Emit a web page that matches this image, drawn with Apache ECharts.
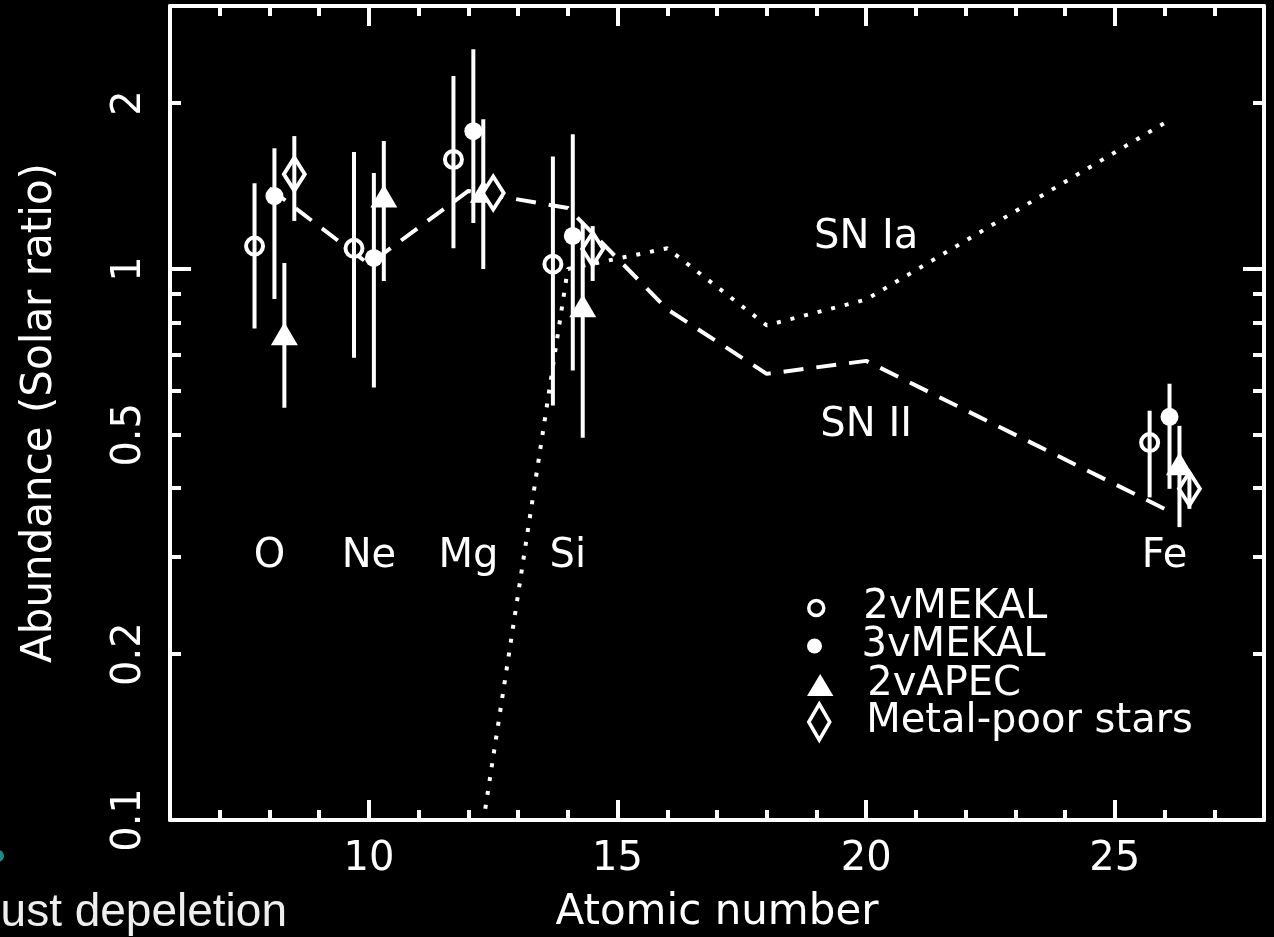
<!DOCTYPE html>
<html><head><meta charset="utf-8">
<script src="https://cdn.jsdelivr.net/npm/echarts@6/dist/echarts.min.js"></script>
<style>html,body{margin:0;padding:0;background:#000;} #chart{width:1274px;height:937px;}</style>
</head><body><div id="chart"></div>
<script>
// ---------------- data ----------------
// 2vMEKAL (open circles)
const mekal2Z    = [7.7, 9.7, 11.7, 13.7, 25.7];
const mekal2Val  = [1.10, 1.09, 1.58, 1.02, 0.484];
const mekal2Low  = [0.78, 0.69, 1.09, 0.565, 0.385];
const mekal2High = [1.43, 1.63, 2.24, 1.60, 0.553];
// 3vMEKAL (filled circles)
const mekal3Z    = [8.1, 10.1, 12.1, 14.1, 26.1];
const mekal3Val  = [1.356, 1.047, 1.778, 1.148, 0.539];
const mekal3Low  = [0.882, 0.609, 1.212, 0.654, 0.399];
const mekal3High = [1.656, 1.493, 2.504, 1.756, 0.619];
// 2vAPEC (filled triangles)
const apecZ    = [8.3, 10.3, 12.3, 14.3, 26.3];
const apecVal  = [0.763, 1.356, 1.384, 0.857, 0.443];
const apecLow  = [0.560, 0.951, 1.0, 0.494, 0.340];
const apecHigh = [1.025, 1.706, 1.869, 1.206, 0.519];
// Metal-poor stars (open diamonds)
const starsZ    = [8.5, 12.5, 14.5, 26.5];
const starsVal  = [1.486, 1.373, 1.087, 0.399];
const starsLow  = [1.222, 1.373, 0.951, 0.367];
const starsHigh = [1.742, 1.373, 1.196, 0.425];
// Supernova models
const snIaZ   = [12, 14, 16, 18, 20, 26];
const snIaVal = [0.066, 1.0, 1.09, 0.79, 0.88, 1.84];
const snIIZ   = [8, 10, 12, 14, 16, 18, 20, 26];
const snIIVal = [1.40, 1.02, 1.385, 1.29, 0.845, 0.645, 0.681, 0.367];
// element / model annotations
const elementNames = ['O', 'Ne', 'Mg', 'Si', 'Fe'];
const elementZ     = [8, 10, 12, 14, 26];
const elementLabelY = 0.3;
const modelNames = ['SN Ia', 'SN II'];
const modelLabelZ = [20, 20];
const modelLabelY = [1.14, 0.52];
// axis ticks
const xMajorTicks = [10, 15, 20, 25];
const xMinorTicks = [7, 8, 9, 11, 12, 13, 14, 16, 17, 18, 19, 21, 22, 23, 24, 26, 27];
const yLabelTicks = [0.1, 0.2, 0.5, 1, 2];
const yMajorTicks = [0.1, 1];
const yMinorTicks = [0.2, 0.3, 0.4, 0.5, 0.6, 0.7, 0.8, 0.9, 2];

// ---------------- chart ----------------
const FONT = 'DejaVu Sans';
const W = '#ffffff';
const LW = 4;
const triPath = 'path://M0,-10 L12,10 L-12,10 Z';
const diaPath = 'path://M0,-18 L10.5,0 L0,18 L-10.5,0 Z';

const zip2 = (xs, ys) => xs.map((x, i) => [x, ys[i]]);
const zip3 = (xs, lo, hi) => xs.map((x, i) => [x, lo[i], hi[i]]);

function errSeries(name, xs, lo, hi) {
  return {
    type: 'custom', name: name + ' err', z: 4,
    encode: { x: 0, y: [1, 2] },
    data: zip3(xs, lo, hi),
    renderItem: function (params, api) {
      const p1 = api.coord([api.value(0), api.value(1)]);
      const p2 = api.coord([api.value(0), api.value(2)]);
      return { type: 'line', shape: { x1: p1[0], y1: p1[1], x2: p2[0], y2: p2[1] },
               style: { stroke: W, lineWidth: LW } };
    },
    silent: true
  };
}

function xAxisDef(pos, ticks, len, showLine, labels) {
  return {
    type: 'value', min: 6, max: 28, position: pos,
    axisLine: { show: showLine, onZero: false, lineStyle: { color: W, width: LW } },
    axisTick: { show: true, inside: true, length: len, customValues: ticks, lineStyle: { color: W, width: LW } },
    axisLabel: labels ? { show: true, customValues: xMajorTicks, color: W, fontSize: 40, fontFamily: FONT, margin: 20 } : { show: false },
    splitLine: { show: false }
  };
}
function yAxisDef(pos, ticks, len, showLine, labels) {
  return {
    type: 'log', logBase: 10, min: 0.1, max: 3, position: pos,
    axisLine: { show: showLine, onZero: false, lineStyle: { color: W, width: LW } },
    axisTick: { show: true, inside: true, length: len, customValues: ticks, lineStyle: { color: W, width: LW } },
    axisLabel: labels ? { show: true, customValues: yLabelTicks, rotate: 90, color: W, fontSize: 40, fontFamily: FONT, margin: 20,
                          formatter: v => String(v) } : { show: false },
    splitLine: { show: false }, minorTick: { show: false }, minorSplitLine: { show: false }
  };
}

const xA = [
  xAxisDef('bottom', xMajorTicks, 20, true, true),
  xAxisDef('bottom', xMinorTicks, 10, false, false),
  xAxisDef('top', xMajorTicks, 20, true, false),
  xAxisDef('top', xMinorTicks, 10, false, false)
];
Object.assign(xA[0], { name: 'Atomic number', nameLocation: 'middle', nameGap: 72,
  nameTextStyle: { color: W, fontSize: 42, fontFamily: FONT } });
const yA = [
  yAxisDef('left', yMajorTicks, 21, true, true),
  yAxisDef('left', yMinorTicks, 11, false, false),
  yAxisDef('right', yMajorTicks, 21, true, false),
  yAxisDef('right', yMinorTicks, 11, false, false)
];
Object.assign(yA[0], { name: 'Abundance (Solar ratio)', nameLocation: 'middle', nameRotate: 90, nameGap: 109,
  nameTextStyle: { color: W, fontSize: 42, fontFamily: FONT } });

const legendCommon = {
  orient: 'vertical', left: 807, padding: 0, itemWidth: 84, selectedMode: false,
  textStyle: { color: W, fontSize: 40, fontFamily: FONT, lineHeight: 40 }
};
const legends = [
  Object.assign({}, legendCommon, { top: 588, itemHeight: 15, data: [{ name: '2vMEKAL', icon: 'circle' }],
    itemStyle: { color: '#000', borderColor: W, borderWidth: 3.5, opacity: 1 } }),
  Object.assign({}, legendCommon, { top: 626, itemHeight: 15, data: [{ name: '3vMEKAL', icon: 'circle' }],
    itemStyle: { color: W, borderWidth: 0, opacity: 1 } }),
  Object.assign({}, legendCommon, { top: 665, itemHeight: 22, data: [{ name: '2vAPEC', icon: triPath }],
    itemStyle: { color: W, borderWidth: 0, opacity: 1 } }),
  Object.assign({}, legendCommon, { top: 702, itemHeight: 36, data: [{ name: 'Metal-poor stars', icon: diaPath }],
    itemStyle: { color: '#000', borderColor: W, borderWidth: 3.5, opacity: 1 } })
];

const annotData = elementNames.map((n, i) => [elementZ[i], elementLabelY, n])
  .concat(modelNames.map((n, i) => [modelLabelZ[i], modelLabelY[i], n]));

const option = {
  backgroundColor: '#000',
  animation: false,
  grid: { left: 170, right: 10, top: 6, bottom: 117, outerBoundsMode: 'none' },
  xAxis: xA,
  yAxis: yA,
  legend: legends,
  graphic: [
    { type: 'text', x: 287, y: 913, style: { text: 'ust depeletion', fill: '#eeeeee',
      font: '46px "Liberation Sans"', textAlign: 'right', textVerticalAlign: 'middle' } },
    { type: 'circle', x: -2, y: 856, shape: { r: 6 }, style: { fill: '#1f8a8a' } }
  ],
  series: [
    { type: 'line', name: 'SN Ia', data: zip2(snIaZ, snIaVal), symbol: 'none', z: 2, clip: true,
      lineStyle: { color: W, width: LW, type: [4, 10] } },
    { type: 'line', name: 'SN II', data: zip2(snIIZ, snIIVal), symbol: 'none', z: 2, clip: true,
      lineStyle: { color: W, width: LW, type: [20, 13] } },
    { type: 'scatter', name: '2vMEKAL', data: zip2(mekal2Z, mekal2Val), symbol: 'circle', symbolSize: 17, z: 3,
      itemStyle: { color: '#000', borderColor: W, borderWidth: LW, opacity: 1 } },
    { type: 'scatter', name: '3vMEKAL', data: zip2(mekal3Z, mekal3Val), symbol: 'circle', symbolSize: 18, z: 3,
      itemStyle: { color: W, borderWidth: 0, opacity: 1 } },
    { type: 'scatter', name: '2vAPEC', data: zip2(apecZ, apecVal), symbol: triPath, symbolSize: [27, 23], z: 3,
      itemStyle: { color: W, borderWidth: 0, opacity: 1 } },
    { type: 'scatter', name: 'Metal-poor stars', data: zip2(starsZ, starsVal), symbol: diaPath, symbolSize: [21, 33], z: 3,
      itemStyle: { color: '#000', borderColor: W, borderWidth: LW, opacity: 1 } },
    errSeries('2vMEKAL', mekal2Z, mekal2Low, mekal2High),
    errSeries('3vMEKAL', mekal3Z, mekal3Low, mekal3High),
    errSeries('2vAPEC', apecZ, apecLow, apecHigh),
    errSeries('Metal-poor stars', starsZ, starsLow, starsHigh),
    { type: 'scatter', name: 'labels', data: annotData, symbolSize: 0, silent: true, z: 5,
      itemStyle: { opacity: 1 },
      label: { show: true, position: 'inside', formatter: p => p.value[2], color: W, opacity: 1, fontSize: 40, fontFamily: FONT } }
  ]
};

const chart = echarts.init(document.getElementById('chart'), null, { renderer: 'canvas' });
chart.setOption(option);
</script>
</body></html>
